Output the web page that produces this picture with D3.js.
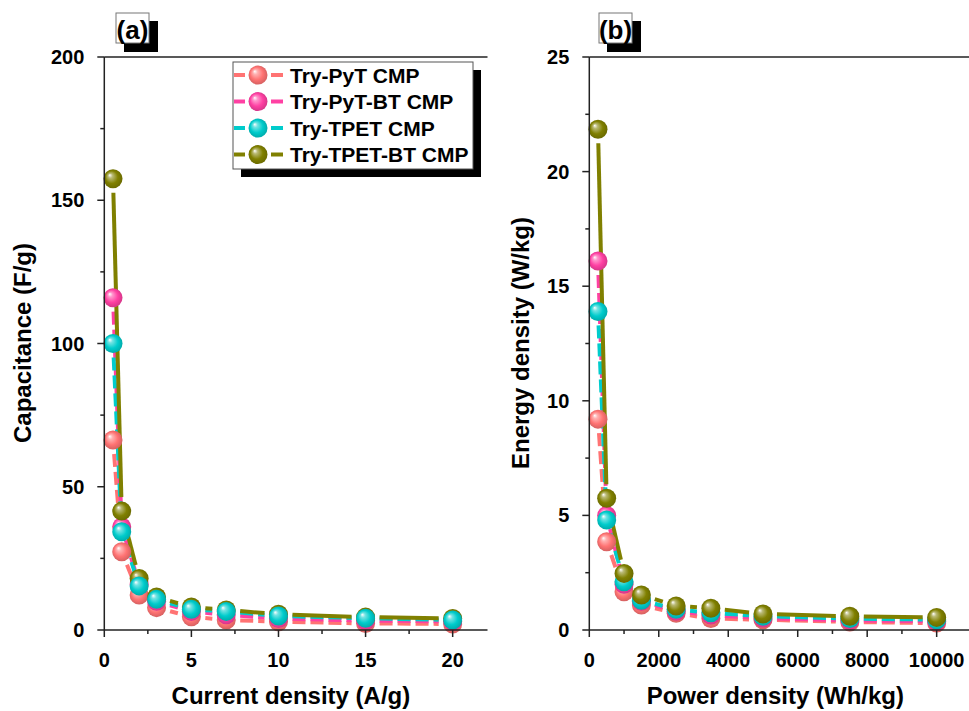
<!DOCTYPE html>
<html lang="en">
<head>
<meta charset="UTF-8">
<title>Capacitance / Energy density</title>
<style>
    html,body { margin:0; padding:0; background:#fff; }
    svg { display:block; font-family:"Liberation Sans", Arial, sans-serif; font-weight:bold; }
</style>
<script src="https://cdn.jsdelivr.net/npm/d3@7"></script>
</head>
<body>
<svg id="chart" width="969" height="711"></svg>
<script>
// ---- data ----
const seriesNames = ['Try-PyT CMP', 'Try-PyT-BT CMP', 'Try-TPET CMP', 'Try-TPET-BT CMP'];
const seriesColors = ['#ff7373', '#ff40a3', '#00cccc', '#808000'];
const seriesDash = ['13,5', '13,5', '13,5', null];

const currentDensity = [0.5, 1, 2, 3, 5, 7, 10, 15, 20];
const powerDensity = [250, 500, 1000, 1500, 2500, 3500, 5000, 7500, 10000];

const capPyT    = [66.3, 27.3, 12.2, 7.8, 4.6, 3.5, 2.9, 2.3, 2.1];
const capPyTBT  = [116, 36, 16, 10, 6.5, 5.3, 4.0, 3.3, 3.0];
const capTPET   = [100, 34.3, 15.4, 10.7, 7.2, 6.5, 4.9, 4.1, 3.5];
const capTPETBT = [157.5, 41.5, 18, 11.5, 8, 7, 5.5, 4.5, 4.0];

const enPyT    = [9.2, 3.85, 1.67, 1.09, 0.73, 0.5, 0.45, 0.35, 0.3];
const enPyTBT  = [16.1, 5.0, 2.0, 1.25, 0.82, 0.65, 0.52, 0.42, 0.38];
const enTPET   = [13.9, 4.8, 2.1, 1.3, 0.9, 0.75, 0.6, 0.5, 0.45];
const enTPETBT = [21.85, 5.75, 2.47, 1.53, 1.05, 0.95, 0.7, 0.6, 0.55];

const svg = d3.select('#chart');
const defs = svg.append('defs');

// sphere-like marker fills
seriesColors.forEach((c, i) => {
    const g = defs.append('radialGradient').attr('id', 'ball' + i)
        .attr('cx', '50%').attr('cy', '50%').attr('r', '55%')
        .attr('fx', '32%').attr('fy', '30%');
    const base = d3.color(c);
    g.append('stop').attr('offset', '0%').attr('stop-color', '#ffffff');
    g.append('stop').attr('offset', '22%').attr('stop-color', d3.interpolateRgb(c, '#fff')(0.45));
    g.append('stop').attr('offset', '60%').attr('stop-color', c);
    g.append('stop').attr('offset', '100%').attr('stop-color', base.darker(0.6).formatHex());
});

const TOP = 57, BOTTOM = 630, R = 9.5, GAP = 14;

function drawPanel(opt) {
    const x = d3.scaleLinear().domain(opt.xDomain).range([opt.left, opt.right]);
    const y = d3.scaleLinear().domain(opt.yDomain).range([BOTTOM, TOP]);
    const g = svg.append('g');

    // lines with gaps around the markers
    const lineG = g.append('g').attr('fill', 'none');
    opt.series.forEach((vals, si) => {
        const pts = vals.map((v, k) => [x(opt.xs[k]), y(v)]);
        for (let k = 0; k < pts.length - 1; k++) {
            const [x0, y0] = pts[k], [x1, y1] = pts[k + 1];
            const len = Math.hypot(x1 - x0, y1 - y0);
            if (len <= 2 * GAP) continue;
            const ux = (x1 - x0) / len, uy = (y1 - y0) / len;
            lineG.append('line')
                .attr('x1', x0 + ux * GAP).attr('y1', y0 + uy * GAP)
                .attr('x2', x1 - ux * GAP).attr('y2', y1 - uy * GAP)
                .attr('stroke', seriesColors[si])
                .attr('stroke-width', 4)
                .attr('stroke-dasharray', seriesDash[si]);
        }
    });

    // markers
    opt.order.forEach(si => {
        g.append('g').selectAll('circle')
            .data(opt.series[si])
            .enter().append('circle')
            .attr('cx', (d, k) => x(opt.xs[k]))
            .attr('cy', d => y(d))
            .attr('r', R)
            .attr('fill', `url(#ball${si})`);
    });

    // axes
    const axG = g.append('g').attr('stroke', '#222').attr('stroke-width', 1.5);
    axG.append('line').attr('x1', opt.left).attr('x2', opt.left).attr('y1', TOP).attr('y2', BOTTOM);
    axG.append('line').attr('x1', opt.left).attr('x2', opt.right).attr('y1', BOTTOM).attr('y2', BOTTOM);
    axG.append('line').attr('x1', opt.left).attr('x2', opt.right).attr('y1', TOP).attr('y2', TOP);

    const xMinor = d3.range(0, opt.xDomain[1] + 1e-9, opt.xStep / 2);
    axG.selectAll('.xt').data(xMinor).enter().append('line')
        .attr('x1', d => x(d)).attr('x2', d => x(d))
        .attr('y1', BOTTOM).attr('y2', (d, i) => BOTTOM + (i % 2 ? 4 : 7));
    const yMinor = d3.range(0, opt.yDomain[1] + 1e-9, opt.yStep / 2);
    axG.selectAll('.yt').data(yMinor).enter().append('line')
        .attr('y1', d => y(d)).attr('y2', d => y(d))
        .attr('x1', opt.left).attr('x2', (d, i) => opt.left - (i % 2 ? 4 : 7));

    const xMajor = d3.range(0, opt.xDomain[1] + 1e-9, opt.xStep);
    g.selectAll('.xl').data(xMajor).enter().append('text')
        .attr('x', d => x(d)).attr('y', 667)
        .attr('text-anchor', 'middle').attr('font-size', 20)
        .text(d => d);
    const yMajor = d3.range(0, opt.yDomain[1] + 1e-9, opt.yStep);
    g.selectAll('.yl').data(yMajor).enter().append('text')
        .attr('x', opt.left - 20).attr('y', d => y(d) + 7)
        .attr('text-anchor', 'end').attr('font-size', 20)
        .text(d => d);

    // axis titles
    g.append('text').attr('x', (opt.left + opt.right) / 2 - 5).attr('y', 704)
        .attr('text-anchor', 'middle').attr('font-size', 24).text(opt.xTitle);
    g.append('text').attr('transform', `translate(${opt.yTitleX},343) rotate(-90)`)
        .attr('text-anchor', 'middle').attr('font-size', 24).text(opt.yTitle);

    // panel tag with shadow box
    const tg = g.append('g').attr('transform', `translate(${opt.tagX},13)`);
    tg.append('rect').attr('x', 8).attr('y', 8).attr('width', 34).attr('height', 31).attr('fill', '#000');
    tg.append('rect').attr('x', 0).attr('y', 0).attr('width', 33).attr('height', 30)
        .attr('fill', '#fff').attr('stroke', '#777').attr('stroke-width', 1);
    tg.append('text').attr('x', 16.5).attr('y', 25.5).attr('text-anchor', 'middle')
        .attr('font-size', 26).text(opt.tag);
}

drawPanel({
    left: 104.3, right: 487.5,
    xDomain: [0, 22], yDomain: [0, 200], xStep: 5, yStep: 50,
    xs: currentDensity,
    series: [capPyT, capPyTBT, capTPET, capTPETBT],
    order: [0, 1, 3, 2],
    xTitle: 'Current density (A/g)', yTitle: 'Capacitance (F/g)',
    yTitleX: 31,
    tag: '(a)', tagX: 116
});

drawPanel({
    left: 589.3, right: 971.4,
    xDomain: [0, 11000], yDomain: [0, 25], xStep: 2000, yStep: 5,
    xs: powerDensity,
    series: [enPyT, enPyTBT, enTPET, enTPETBT],
    order: [0, 1, 2, 3],
    xTitle: 'Power density (Wh/kg)', yTitle: 'Energy density (W/kg)',
    yTitleX: 529,
    tag: '(b)', tagX: 599
});

// legend (panel a)
const lg = svg.append('g').attr('transform', 'translate(233,62)');
lg.append('rect').attr('x', 8).attr('y', 8).attr('width', 240).attr('height', 107).attr('fill', '#000');
lg.append('rect').attr('x', 0).attr('y', 0).attr('width', 240).attr('height', 107)
    .attr('fill', '#fff').attr('stroke', '#555').attr('stroke-width', 1);
const rows = lg.selectAll('.row').data(seriesNames).enter().append('g')
    .attr('transform', (d, i) => `translate(0,${13 + i * 26.5})`);
rows.append('line').attr('x1', 1).attr('x2', 12).attr('y1', 0).attr('y2', 0)
    .attr('stroke', (d, i) => seriesColors[i]).attr('stroke-width', 4);
rows.append('line').attr('x1', 38).attr('x2', 50).attr('y1', 0).attr('y2', 0)
    .attr('stroke', (d, i) => seriesColors[i]).attr('stroke-width', 4);
rows.append('circle').attr('cx', 25).attr('cy', 0).attr('r', R)
    .attr('fill', (d, i) => `url(#ball${i})`);
rows.append('text').attr('x', 57).attr('y', 7.5).attr('font-size', 21).text(d => d);
</script>
</body>
</html>
